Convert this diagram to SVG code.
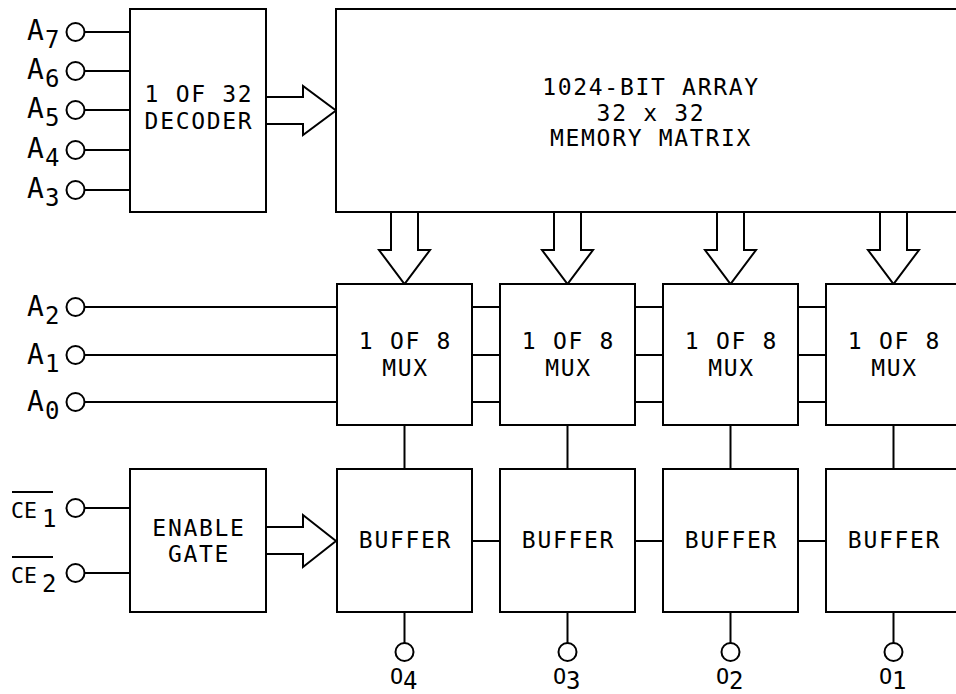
<svg xmlns="http://www.w3.org/2000/svg" width="956" height="694" viewBox="0 0 956 694">
<style>
.box{fill:#fff;stroke:#000;stroke-width:2}
.ln{stroke:#000;stroke-width:2;fill:none}
.pin{fill:#fff;stroke:#000;stroke-width:2}
.arr{fill:#fff;stroke:#000;stroke-width:2;stroke-linejoin:miter}
.t{font-family:"DejaVu Sans Mono","Liberation Mono",monospace;font-size:23px;letter-spacing:1.7px;fill:#000;text-anchor:middle}
.lb{font-family:"DejaVu Sans Mono","Liberation Mono",monospace;font-size:28px;fill:#000}
.sb{font-family:"DejaVu Sans Mono","Liberation Mono",monospace;font-size:24px;fill:#000}
.sm{font-family:"DejaVu Sans Mono","Liberation Mono",monospace;font-size:21.5px;fill:#000}
.so{font-family:"DejaVu Sans Mono","Liberation Mono",monospace;font-size:22px;fill:#000}
</style>
<rect width="956" height="694" fill="#fff"/>
<g id="connectors">
<line class="ln" x1="84" y1="32" x2="130" y2="32"/>
<line class="ln" x1="84" y1="71" x2="130" y2="71"/>
<line class="ln" x1="84" y1="110" x2="130" y2="110"/>
<line class="ln" x1="84" y1="150" x2="130" y2="150"/>
<line class="ln" x1="84" y1="190" x2="130" y2="190"/>
<line class="ln" x1="84" y1="307" x2="337" y2="307"/>
<line class="ln" x1="84" y1="355" x2="337" y2="355"/>
<line class="ln" x1="84" y1="402" x2="337" y2="402"/>
<line class="ln" x1="472" y1="307" x2="500" y2="307"/>
<line class="ln" x1="472" y1="355" x2="500" y2="355"/>
<line class="ln" x1="472" y1="402" x2="500" y2="402"/>
<line class="ln" x1="635" y1="307" x2="663" y2="307"/>
<line class="ln" x1="635" y1="355" x2="663" y2="355"/>
<line class="ln" x1="635" y1="402" x2="663" y2="402"/>
<line class="ln" x1="798" y1="307" x2="826" y2="307"/>
<line class="ln" x1="798" y1="355" x2="826" y2="355"/>
<line class="ln" x1="798" y1="402" x2="826" y2="402"/>
<line class="ln" x1="84" y1="508" x2="130" y2="508"/>
<line class="ln" x1="84" y1="573" x2="130" y2="573"/>
<line class="ln" x1="404.5" y1="425" x2="404.5" y2="469"/>
<line class="ln" x1="567.5" y1="425" x2="567.5" y2="469"/>
<line class="ln" x1="730.5" y1="425" x2="730.5" y2="469"/>
<line class="ln" x1="893.5" y1="425" x2="893.5" y2="469"/>
<line class="ln" x1="472" y1="541" x2="500" y2="541"/>
<line class="ln" x1="635" y1="541" x2="663" y2="541"/>
<line class="ln" x1="798" y1="541" x2="826" y2="541"/>
<line class="ln" x1="404.5" y1="612" x2="404.5" y2="643"/>
<line class="ln" x1="567.5" y1="612" x2="567.5" y2="643"/>
<line class="ln" x1="730.5" y1="612" x2="730.5" y2="643"/>
<line class="ln" x1="893.5" y1="612" x2="893.5" y2="643"/>
<path class="arr" d="M266,97 H303 V86 L336,110.5 L303,135 V124 H266"/>
<path class="arr" d="M266,527 H303 V515 L336,541 L303,567 V554 H266"/>
<path class="arr" d="M391,212 V250 H379 L404.5,284 L430,250 H418 V212"/>
<path class="arr" d="M554,212 V250 H542 L567.5,284 L593,250 H581 V212"/>
<path class="arr" d="M717,212 V250 H705 L730.5,284 L756,250 H744 V212"/>
<path class="arr" d="M880,212 V250 H868 L893.5,284 L919,250 H907 V212"/>
</g>
<g id="pins">
<circle class="pin" cx="75.5" cy="32" r="9"/>
<circle class="pin" cx="75.5" cy="71" r="9"/>
<circle class="pin" cx="75.5" cy="110" r="9"/>
<circle class="pin" cx="75.5" cy="150" r="9"/>
<circle class="pin" cx="75.5" cy="190" r="9"/>
<circle class="pin" cx="75.5" cy="307" r="9"/>
<circle class="pin" cx="75.5" cy="355" r="9"/>
<circle class="pin" cx="75.5" cy="402" r="9"/>
<circle class="pin" cx="75.5" cy="508" r="9"/>
<circle class="pin" cx="75.5" cy="573" r="9"/>
<circle class="pin" cx="404.5" cy="652" r="9"/>
<circle class="pin" cx="567.5" cy="652" r="9"/>
<circle class="pin" cx="730.5" cy="652" r="9"/>
<circle class="pin" cx="893.5" cy="652" r="9"/>
</g>
<g id="labels">
<text class="lb" x="27" y="40">A</text><text class="sb" x="45" y="48">7</text>
<text class="lb" x="27" y="79">A</text><text class="sb" x="45" y="87">6</text>
<text class="lb" x="27" y="118">A</text><text class="sb" x="45" y="126">5</text>
<text class="lb" x="27" y="158">A</text><text class="sb" x="45" y="166">4</text>
<text class="lb" x="27" y="198">A</text><text class="sb" x="45" y="206">3</text>
<text class="lb" x="27" y="316">A</text><text class="sb" x="45" y="324">2</text>
<text class="lb" x="27" y="364">A</text><text class="sb" x="45" y="372">1</text>
<text class="lb" x="27" y="411">A</text><text class="sb" x="45" y="419">0</text>
<text class="sm" x="11" y="518">CE</text><text class="sb" x="42" y="527">1</text>
<line class="ln" x1="12" y1="492" x2="53" y2="492"/>
<text class="sm" x="11" y="583">CE</text><text class="sb" x="42" y="592">2</text>
<line class="ln" x1="12" y1="557" x2="53" y2="557"/>
<text class="so" x="390" y="684">O</text><text class="sb" x="403" y="689">4</text>
<text class="so" x="553" y="684">O</text><text class="sb" x="566" y="689">3</text>
<text class="so" x="716" y="684">O</text><text class="sb" x="729" y="689">2</text>
<text class="so" x="879" y="684">O</text><text class="sb" x="892" y="689">1</text>
</g>
<g id="decoder">
<rect class="box" x="130" y="9" width="136" height="203"/>
<text class="t" x="199" y="102">1 OF 32</text>
<text class="t" x="199" y="129">DECODER</text>
</g>
<g id="memory">
<rect class="box" x="336" y="9" width="640" height="203"/>
<text class="t" x="651" y="95">1024-BIT ARRAY</text>
<text class="t" x="651" y="121">32 x 32</text>
<text class="t" x="651" y="146">MEMORY MATRIX</text>
</g>
<g id="mux1"><rect class="box" x="337" y="284" width="135" height="141"/><text class="t" x="405.5" y="349">1 OF 8</text><text class="t" x="405.5" y="376">MUX</text></g>
<g id="mux2"><rect class="box" x="500" y="284" width="135" height="141"/><text class="t" x="568.5" y="349">1 OF 8</text><text class="t" x="568.5" y="376">MUX</text></g>
<g id="mux3"><rect class="box" x="663" y="284" width="135" height="141"/><text class="t" x="731.5" y="349">1 OF 8</text><text class="t" x="731.5" y="376">MUX</text></g>
<g id="mux4"><rect class="box" x="826" y="284" width="135" height="141"/><text class="t" x="894.5" y="349">1 OF 8</text><text class="t" x="894.5" y="376">MUX</text></g>
<g id="enable">
<rect class="box" x="130" y="469" width="136" height="143"/>
<text class="t" x="199" y="536">ENABLE</text>
<text class="t" x="199" y="562">GATE</text>
</g>
<g id="buffer1"><rect class="box" x="337" y="469" width="135" height="143"/><text class="t" x="405.5" y="548">BUFFER</text></g>
<g id="buffer2"><rect class="box" x="500" y="469" width="135" height="143"/><text class="t" x="568.5" y="548">BUFFER</text></g>
<g id="buffer3"><rect class="box" x="663" y="469" width="135" height="143"/><text class="t" x="731.5" y="548">BUFFER</text></g>
<g id="buffer4"><rect class="box" x="826" y="469" width="135" height="143"/><text class="t" x="894.5" y="548">BUFFER</text></g>
</svg>
